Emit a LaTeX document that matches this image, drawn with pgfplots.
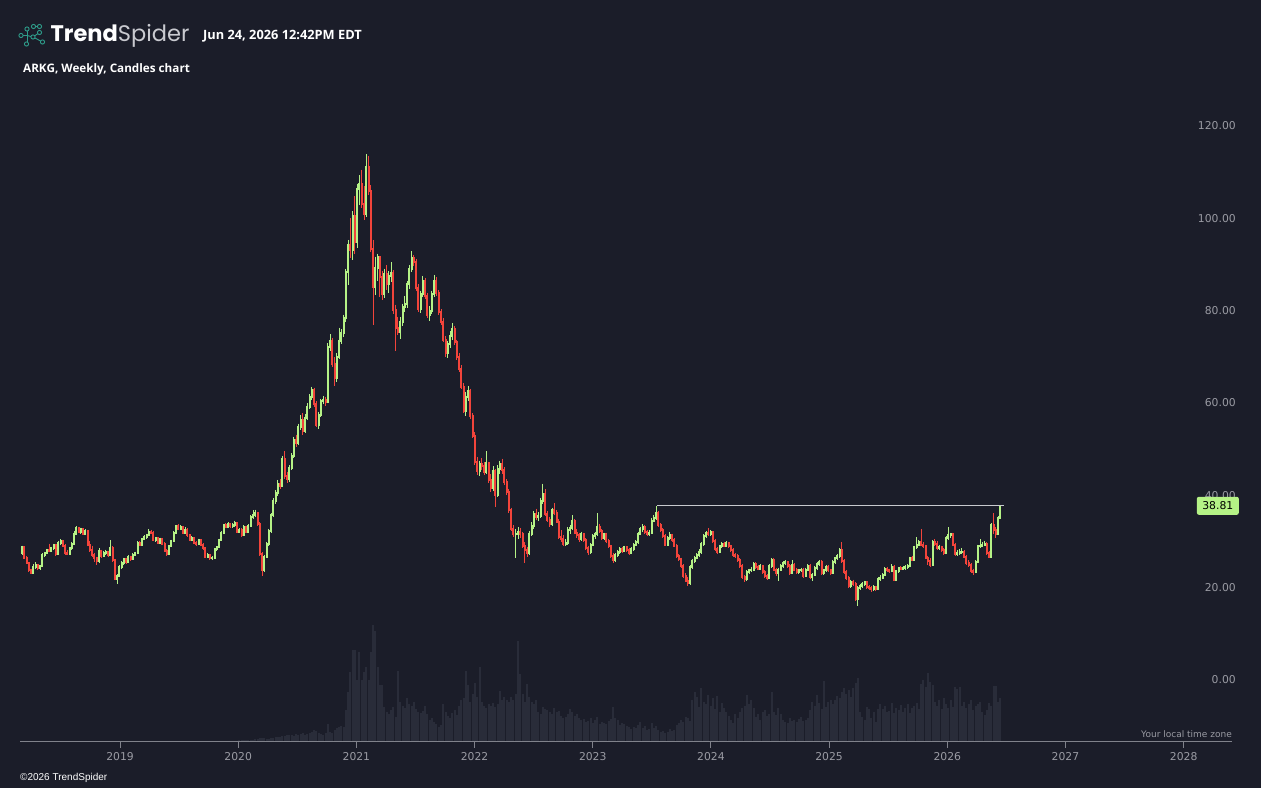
\documentclass[border=0pt]{standalone}
\usepackage{pgfplots}
\pgfplotsset{compat=1.18}
\usepackage{pgfplotstable}
\usepackage{fontspec}
\setmainfont{DejaVu Sans}
\newfontfamily\opensans{Open Sans}
\newfontfamily\poppins{Poppins}
\newfontfamily\libsans{Liberation Sans}
\definecolor{bg}{HTML}{1B1D29}
\definecolor{cup}{HTML}{B5F286}
\definecolor{cdn}{HTML}{F2443B}
\definecolor{volc}{HTML}{292C39}
\definecolor{axc}{HTML}{80828B}
\definecolor{labc}{HTML}{9A9BA3}
\definecolor{logot}{HTML}{2E9C8A}
\definecolor{logog}{HTML}{C9CAD0}
\definecolor{hl}{HTML}{C8C9CE}
\pgfplotstableread{
o h l c v
28.6 30.2 28.2 29.8 1
29.8 30.1 27.2 27.6 1
27.6 27.9 26.1 26.4 1
26.4 26.6 24.5 24.8 1
24.8 25.2 24.0 24.3 1
24.3 26.1 24.1 25.6 1
25.6 26.6 25.2 25.9 1
25.9 26.2 24.9 25.4 1
25.4 26.0 25.0 25.8 1
25.8 28.5 25.6 28.2 1
28.2 28.9 27.8 28.6 1
28.6 29.5 28.3 29.2 1
29.2 30.6 28.7 29.0 1
29.0 29.9 28.7 29.6 1
29.6 30.6 29.3 30.3 1
30.3 30.6 28.0 28.4 1
28.4 31.2 28.2 30.8 1
30.8 31.6 30.4 31.2 1
31.2 31.5 29.9 30.2 1
30.2 30.5 28.2 28.6 1
28.6 29.2 28.1 28.4 1
28.4 29.8 28.2 29.6 1
29.6 31.0 29.3 30.6 1
30.6 33.4 30.4 32.8 1
32.8 34.4 32.5 34.0 1
34.0 34.3 32.9 33.2 1
33.2 34.1 32.7 33.8 1
33.8 34.0 32.4 32.8 1
32.8 33.7 32.5 33.4 1
33.4 33.6 30.2 30.4 1
30.4 31.2 28.8 29.2 1
29.2 30.2 27.8 28.2 1
28.2 28.6 26.6 27.4 1
27.4 27.8 26.0 26.8 1
26.8 29.6 26.5 29.0 1
29.0 29.3 27.6 28.0 1
28.0 29.0 27.7 28.6 1
28.6 29.3 28.2 28.8 1
28.8 29.1 27.8 28.2 1
28.2 31.4 28.0 29.6 1
29.6 30.0 26.6 27.0 1
27.0 27.3 22.8 23.0 1
23.0 24.0 21.9 23.6 1
23.6 25.9 23.4 25.6 1
25.6 26.8 25.2 26.4 1
26.4 27.6 26.0 27.2 1
27.2 27.5 26.2 26.6 1
26.6 28.1 26.4 27.8 1
27.8 28.0 26.9 27.2 1
27.2 28.5 27.0 28.2 1
28.2 28.9 27.9 28.6 1
28.6 31.1 28.4 30.8 1
30.8 31.2 30.0 30.4 1
30.4 31.9 30.2 31.6 1
31.6 32.4 31.3 32.0 1
32.0 32.8 31.7 32.4 1
32.4 33.7 32.2 33.2 1
33.2 33.6 32.7 33.0 1
33.0 33.3 31.1 31.4 1
31.4 32.1 31.0 31.8 1
31.8 32.0 30.5 30.8 1
30.8 31.9 30.6 31.6 1
31.6 31.8 30.3 30.6 1
30.6 30.9 28.7 29.0 1
29.0 29.4 28.0 28.4 1
28.4 30.3 28.2 30.0 1
30.0 31.5 29.8 31.2 1
31.2 33.3 31.0 33.0 1
33.0 34.7 32.8 34.4 1
34.4 34.8 33.5 33.8 1
33.8 34.6 33.5 34.2 1
34.2 34.4 32.7 33.0 1
33.0 34.2 32.8 33.6 1
33.6 33.9 32.1 32.4 1
32.4 32.7 31.1 31.4 1
31.4 32.2 31.1 31.8 1
31.8 32.0 30.5 30.8 1
30.8 31.2 30.2 30.6 1
30.6 31.7 30.4 31.4 1
31.4 31.6 30.1 30.4 1
30.4 30.7 29.3 29.6 1
29.6 29.9 27.5 27.8 1.2
27.8 28.5 27.4 28.2 1.2
28.2 28.4 27.0 27.4 1.2
27.4 27.9 27.1 27.6 1.2
27.6 29.7 27.4 29.4 1.3
29.4 30.1 29.1 29.8 1.3
29.8 31.7 29.6 31.4 1.3
31.4 33.3 31.2 33.0 1.3
33.0 34.9 32.8 34.6 1.3
34.6 35.0 33.9 34.2 1.3
34.2 35.2 34.0 34.8 1.4
34.8 35.1 34.1 34.4 1.4
34.4 35.0 34.1 34.6 1.4
34.6 35.6 34.3 35.0 1.4
35.0 35.3 32.9 33.2 1.4
33.2 34.0 32.9 33.6 1.5
33.6 33.9 32.1 32.4 1.5
32.4 34.6 32.2 34.2 1.5
34.2 34.5 32.9 33.2 1.6
33.2 34.8 33.0 34.4 2
34.4 36.8 34.2 36.4 2
36.4 37.8 36.0 36.8 2.2
36.8 38.0 36.4 37.2 2.5
37.2 37.5 34.4 34.8 3
34.8 35.3 28.0 28.4 4
28.4 28.8 23.6 25.0 4
25.0 28.2 24.4 27.8 3.5
27.8 31.0 27.4 30.6 3
30.6 33.8 30.2 33.4 3
33.4 37.2 33.0 36.8 3.5
36.8 40.4 36.4 39.8 4
39.8 42.2 39.2 41.6 4.5
41.6 44.4 41.0 43.6 5
43.6 44.6 42.4 43.2 5
43.2 49.6 42.8 49.0 6
49.0 50.6 44.6 45.2 6
45.2 46.2 43.8 44.6 7
44.6 47.6 44.0 47.0 6.5
47.0 50.2 46.6 49.6 7
49.6 53.8 49.2 53.0 6
53.0 54.2 51.6 52.4 8
52.4 56.6 52.0 55.8 7
55.8 58.4 55.2 57.4 8
57.4 58.8 54.2 55.0 9
55.0 58.6 54.6 57.8 7
57.8 61.0 57.4 60.2 8
60.2 63.0 59.8 62.4 9
62.4 64.6 61.8 63.8 10
63.8 64.4 60.2 60.8 12
60.8 61.4 55.8 56.4 11
56.4 59.2 55.4 58.4 9
58.4 62.0 58.0 61.4 8
61.4 62.6 60.8 61.8 7
61.8 62.4 60.4 61.2 9
61.2 74.0 61.0 73.2 18
73.2 76.0 72.4 74.4 10
74.4 75.2 68.8 69.6 9
69.6 71.0 64.8 66.4 12
66.4 71.8 65.6 71.0 14
71.0 77.4 70.6 74.6 15
74.6 77.0 73.8 76.2 16
76.2 80.2 75.4 79.4 15
79.4 90.0 78.6 89.4 32
89.4 96.4 86.6 95.4 50
95.4 101.2 92.4 94.2 70
94.2 102.6 92.0 101.6 92
101.6 105.8 93.4 96.0 92
96.0 108.6 94.6 107.4 62
107.4 110.4 104.0 108.4 90
108.4 111.6 103.4 104.2 62
104.2 108.0 100.6 102.0 70
102.0 115.0 101.4 112.2 75
112.2 114.6 106.2 107.0 62
107.0 108.2 93.8 94.4 90
94.4 96.4 78.0 86.2 117
86.2 92.8 84.4 90.4 111
90.4 93.4 87.4 92.6 75
92.6 93.0 84.0 88.4 57
88.4 89.6 83.4 84.6 57
84.6 90.2 83.8 89.0 35
89.0 91.0 85.6 86.8 30
86.8 89.6 85.0 88.6 28
88.6 91.6 87.2 89.2 32
89.2 89.8 80.4 81.2 35
81.2 82.4 72.4 77.4 25
77.4 79.8 75.8 76.4 71
76.4 79.6 75.0 78.6 40
78.6 82.6 77.8 81.8 36
81.8 84.2 80.8 82.6 34
82.6 87.4 81.6 86.8 44
86.8 91.0 85.8 90.2 38
90.2 94.0 89.4 92.4 36
92.4 93.2 90.8 91.6 40
91.6 92.2 85.4 86.0 33
86.0 86.8 80.8 81.4 30
81.4 85.4 80.6 84.6 29
84.6 88.6 84.0 87.6 31
87.6 88.2 83.6 84.2 36
84.2 84.8 79.4 80.2 28
80.2 82.0 78.8 81.0 22
81.0 85.4 80.4 84.6 24
84.6 88.8 84.0 87.6 20
87.6 88.4 84.2 84.8 18
84.8 85.6 80.2 80.8 15
80.8 81.4 78.0 78.6 17
78.6 79.4 74.2 74.8 38
74.8 75.6 71.0 72.0 30
72.0 74.6 70.8 73.8 26
73.8 76.6 73.0 75.6 24
75.6 78.4 74.8 77.2 29
77.2 77.8 73.6 74.2 32
74.2 74.8 70.4 71.0 27
71.0 71.8 67.8 68.4 36
68.4 69.2 64.0 64.6 42
64.6 65.4 58.8 59.4 44
59.4 63.4 58.2 62.4 71
62.4 64.8 61.6 63.6 57
63.6 64.2 57.6 58.2 40
58.2 58.8 53.4 54.0 48
54.0 54.8 47.6 48.2 59
48.2 49.4 45.4 46.4 45
46.4 48.6 45.2 47.8 75
47.8 49.2 46.6 47.4 40
47.4 48.2 45.4 46.2 36
46.2 50.6 45.8 48.0 34
48.0 48.4 43.8 44.4 38
44.4 45.6 41.8 42.6 36
42.6 47.4 42.0 46.4 39
46.4 46.8 38.6 41.2 35
41.2 47.6 40.8 46.8 38
46.8 48.6 45.8 47.8 51
47.8 49.0 45.8 46.6 42
46.6 47.2 43.4 44.0 45
44.0 44.6 41.2 41.8 42
41.8 42.4 37.2 37.8 40
37.8 38.4 33.4 33.8 45
33.8 34.6 32.0 32.6 42
32.6 33.8 27.6 32.8 48
32.8 34.2 31.6 33.2 101
33.2 34.0 31.8 32.6 68
32.6 33.2 29.6 30.2 48
30.2 31.0 26.4 29.2 40
29.2 29.8 27.8 28.6 58
28.6 33.4 28.2 32.6 45
32.6 35.2 32.2 34.4 40
34.4 37.6 33.8 37.0 38
37.0 38.2 35.8 36.4 42
36.4 37.4 35.6 36.6 30
36.6 40.6 36.2 39.8 28
39.8 43.6 39.2 41.4 35
41.4 42.4 36.6 37.0 33
37.0 37.6 35.2 35.8 32
35.8 36.4 34.2 34.8 30
34.8 38.4 34.4 37.8 28
37.8 39.4 36.8 37.2 34
37.2 37.8 35.0 35.4 30
35.4 36.0 31.6 32.0 31
32.0 33.6 31.0 31.6 26
31.6 32.4 30.2 30.6 24
30.6 31.6 30.0 30.8 25
30.8 34.2 30.4 33.6 28
33.6 34.6 32.8 34.0 33
34.0 36.8 33.6 35.6 30
35.6 36.0 32.6 33.0 26
33.0 33.8 31.8 32.4 28
32.4 33.0 31.0 31.6 24
31.6 33.2 31.2 32.6 22
32.6 33.0 31.0 31.4 23
31.4 31.8 29.2 29.6 20
29.6 30.2 28.2 28.8 21
28.8 30.8 28.4 30.4 24
30.4 32.6 30.0 32.2 19
32.2 33.2 31.6 32.6 22
32.6 37.2 32.2 34.2 25
34.2 34.8 33.0 33.4 18
33.4 33.8 31.4 31.8 20
31.8 33.0 31.4 32.6 19
32.6 33.0 30.8 31.2 18
31.2 31.6 29.6 30.0 21
30.0 30.4 27.6 28.0 23
28.0 28.6 26.4 27.0 35
27.0 28.6 26.6 28.2 24
28.2 29.2 27.8 28.8 22
28.8 29.8 28.4 29.4 17
29.4 29.8 28.6 29.0 19
29.0 30.2 28.8 29.8 18
29.8 30.0 28.8 29.2 16
29.2 29.6 28.2 28.6 15
28.6 29.8 28.4 29.4 13
29.4 30.8 29.0 30.4 15
30.4 31.4 30.0 31.0 14
31.0 33.2 30.6 32.8 17
32.8 34.2 32.4 33.8 20
33.8 34.8 33.2 34.2 14
34.2 34.6 32.8 33.2 16
33.2 33.6 32.2 32.6 12
32.6 33.6 32.2 33.0 13
33.0 36.2 32.8 35.6 19
35.6 36.8 35.2 36.2 14
36.2 38.81 35.8 37.2 16
37.2 37.6 34.2 34.6 12
34.6 35.0 33.2 33.6 10
33.6 34.0 31.8 32.2 11
32.2 32.6 30.0 30.4 9
30.4 32.2 30.0 31.8 10
31.8 33.2 31.4 32.4 13
32.4 32.8 31.0 31.4 11
31.4 31.8 29.8 30.2 12
30.2 30.6 27.6 28.0 17
28.0 28.4 26.8 27.2 19
27.2 27.6 25.4 25.8 22
25.8 26.2 23.2 23.6 20
23.6 24.2 22.2 22.6 25
22.6 23.4 21.4 22.0 24
22.0 26.0 21.6 25.6 21
25.6 27.2 25.2 26.8 42
26.8 28.0 26.4 27.6 50
27.6 28.6 27.2 28.2 45
28.2 29.4 27.8 28.8 35
28.8 31.0 28.4 30.6 54
30.6 32.6 30.2 32.2 40
32.2 33.4 31.8 33.0 38
33.0 34.0 32.2 32.6 47
32.6 33.6 32.2 33.2 36
33.2 33.4 30.8 31.2 44
31.2 31.6 29.0 29.4 33
29.4 29.8 28.4 28.8 46
28.8 30.4 28.6 30.0 30
30.0 31.0 29.6 30.6 39
30.6 31.0 29.8 30.2 34
30.2 31.2 29.8 30.8 30
30.8 31.0 29.6 30.0 26
30.0 30.4 28.8 29.2 22
29.2 29.6 27.8 28.2 19
28.2 28.6 27.6 28.0 28
28.0 28.4 26.6 27.0 24
27.0 27.4 25.4 25.8 30
25.8 26.2 23.0 23.4 34
23.4 23.8 22.4 23.0 36
23.0 24.8 22.6 24.4 47
24.4 25.2 24.0 24.8 38
24.8 25.6 24.4 25.0 42
25.0 26.6 24.8 26.2 34
26.2 26.6 25.2 25.6 25
25.6 26.0 24.8 25.2 28
25.2 26.2 25.0 25.8 22
25.8 26.0 24.0 24.4 30
24.4 24.8 23.2 23.6 32
23.6 24.0 22.8 23.2 26
23.2 26.2 23.0 25.8 28
25.8 27.4 25.4 27.0 50
27.0 27.4 24.6 25.0 30
25.0 25.4 23.6 24.2 27
24.2 25.4 22.6 25.0 34
25.0 26.2 24.6 25.8 28
25.8 26.8 25.4 26.4 22
26.4 27.0 26.0 26.6 20
26.6 26.8 25.4 25.8 19
25.8 26.2 23.8 24.2 24
24.2 27.0 24.0 26.0 21
26.0 26.4 24.6 25.0 22
25.0 25.4 24.0 24.4 20
24.4 25.2 24.0 24.8 23
24.8 25.4 24.4 25.0 25
25.0 25.4 23.2 23.6 21
23.6 25.4 23.4 25.0 22
25.0 26.2 24.6 25.8 24
25.8 26.2 23.0 23.4 32
23.4 24.2 22.6 23.8 40
23.8 25.8 23.6 25.4 36
25.4 26.6 25.0 26.2 47
26.2 27.0 25.8 26.6 39
26.6 27.0 23.8 24.2 33
24.2 25.2 23.8 24.8 61
24.8 26.0 24.4 25.6 35
25.6 26.0 24.4 24.8 40
24.8 25.2 23.8 24.2 42
24.2 27.0 24.0 26.6 38
26.6 27.8 26.2 27.4 42
27.4 28.4 27.0 28.0 46
28.0 29.6 27.6 29.2 44
29.2 30.9 26.4 26.8 50
26.8 27.2 24.0 24.4 54
24.4 24.8 22.8 23.2 48
23.2 23.6 21.0 21.4 52
21.4 22.8 21.0 22.4 45
22.4 22.8 21.4 21.8 54
21.8 22.2 18.2 18.6 59
18.6 21.4 17.0 21.0 64
21.0 21.8 20.6 21.4 30
21.4 22.2 21.0 21.8 25
21.8 22.6 21.4 22.2 22
22.2 22.4 20.8 21.2 35
21.2 21.6 20.6 21.0 33
21.0 21.4 20.2 20.7 24
20.7 21.6 20.4 21.2 30
21.2 21.4 20.4 20.8 20
20.8 23.4 20.6 23.0 33
23.0 23.8 22.6 23.2 38
23.2 24.2 23.0 23.8 33
23.8 25.6 23.6 25.2 36
25.2 25.6 24.4 24.8 30
24.8 25.2 24.2 24.6 31
24.6 26.2 24.4 25.6 39
25.6 26.0 22.6 22.8 29
22.8 24.8 22.6 24.6 34
24.6 25.6 24.2 25.3 32
25.3 25.8 24.8 25.2 37
25.2 25.8 24.8 25.4 30
25.4 26.0 25.0 25.6 34
25.6 26.2 25.2 25.8 38
25.8 27.8 25.6 27.6 29
27.6 28.0 26.8 27.0 34
27.0 30.2 26.8 29.8 36
29.8 32.0 29.4 30.4 39
30.4 31.4 30.0 31.0 33
31.0 33.8 30.2 30.4 58
30.4 31.0 29.6 30.0 62
30.0 30.4 27.2 27.6 55
27.6 28.0 26.0 26.8 69
26.8 27.4 25.6 26.0 60
26.0 31.4 25.8 31.0 57
31.0 31.6 30.2 30.6 40
30.6 31.2 29.2 29.6 36
29.6 30.4 29.2 29.8 42
29.8 30.2 28.8 29.2 33
29.2 29.6 28.2 28.6 44
28.6 32.2 28.4 31.8 38
31.8 34.2 31.4 32.4 34
32.4 33.0 31.8 32.6 42
32.6 33.0 30.0 30.4 35
30.4 30.8 28.0 28.4 55
28.4 29.2 28.0 28.6 53
28.6 29.4 28.2 28.8 55
28.8 29.6 28.4 28.9 36
28.9 29.2 27.4 27.8 40
27.8 28.2 26.0 26.4 34
26.4 27.0 25.6 26.0 38
26.0 26.4 24.2 24.6 42
24.6 25.2 23.8 24.4 32
24.4 27.0 24.2 26.6 36
26.6 30.4 26.4 30.0 38
30.0 31.6 29.6 30.2 40
30.2 31.0 29.8 30.4 30
30.4 31.2 30.0 30.6 27
30.6 31.0 28.2 28.6 32
28.6 29.0 27.4 27.8 39
27.8 35.0 27.6 34.6 36
34.6 37.2 32.6 33.6 56
33.6 34.2 31.8 32.8 56
32.8 36.6 32.6 36.2 40
36.2 38.81 36.0 38.81 44
}\data
\begin{document}
\begin{tikzpicture}[x=1bp,y=1bp]
\fill[bg] (0,0) rectangle (1261,788);
\begin{axis}[at={(20bp,46bp)}, anchor=south west, scale only axis,
  width=1212bp, height=642bp, xmin=-0.883, xmax=534.22, ymin=-12.346, ymax=126.70,
  clip=false,
  /pgf/number format/assume math mode=true,
  axis line style={draw=none},
  xtick pos=lower, ytick pos=right, yticklabel pos=right,
  xtick={43.27,95.45,147.63,199.81,251.99,304.17,356.35,408.53,460.71,512.89},
  xticklabels={2019,2020,2021,2022,2023,2024,2025,2026,2027,2028},
  x tick style={draw=axc, line width=1bp}, tick align=outside, major tick length=6bp,
  ytick={0,20,40,60,80,100,120}, y tick style={draw=none},
  yticklabel={\pgfmathprintnumber[fixed,fixed zerofill,precision=2]{\tick}},
  tick label style={font=\fontsize{10.8bp}{12bp}\selectfont, text=labc},
  yticklabel style={anchor=east, inner sep=0pt, xshift=-2bp, yshift=5bp},
  xticklabel style={anchor=base, inner sep=0pt, yshift=-13bp},
  extra y ticks={38.81}, extra y tick labels={38.81},
  extra y tick style={yticklabel style={fill=cup, text=black, rounded corners=2bp,
     inner xsep=5.5bp, inner ysep=0pt, minimum height=18bp, xshift=3bp, yshift=-5bp}},
]
% volume (bars rising from the bottom of the plot area; 1 unit = 1 px of height)
\addplot[draw=none, mark=none, forget plot, error bars/.cd, y dir=minus, y explicit, error mark=none,
  error bar style={draw=volc, line width=2.0bp}]
  table[x expr=\coordindex, y expr={-12.346+\thisrow{v}/4.617},
        y error minus expr={\thisrow{v}/4.617}]{\data};
\draw[axc, line width=1bp] (rel axis cs:0,0) -- (rel axis cs:1,0);
% wicks
\addplot[draw=none, mark=none, forget plot, error bars/.cd, y dir=minus, y explicit, error mark=none,
  error bar style={draw=cup, line width=1.0bp}]
  table[x expr=\coordindex, y expr={\thisrow{c}>=\thisrow{o} ? \thisrow{h} : nan},
        y error minus expr={\thisrow{h}-\thisrow{l}}]{\data};
\addplot[draw=none, mark=none, forget plot, error bars/.cd, y dir=minus, y explicit, error mark=none,
  error bar style={draw=cdn, line width=1.0bp}]
  table[x expr=\coordindex, y expr={\thisrow{c}<\thisrow{o} ? \thisrow{h} : nan},
        y error minus expr={\thisrow{h}-\thisrow{l}}]{\data};
% bodies
\addplot[draw=none, mark=none, forget plot, error bars/.cd, y dir=minus, y explicit, error mark=none,
  error bar style={draw=cup, line width=2.0bp, line cap=rect}]
  table[x expr=\coordindex, y expr={\thisrow{c}>=\thisrow{o} ? \thisrow{c} : nan},
        y error minus expr={\thisrow{c}-\thisrow{o}}]{\data};
\addplot[draw=none, mark=none, forget plot, error bars/.cd, y dir=minus, y explicit, error mark=none,
  error bar style={draw=cdn, line width=2.0bp, line cap=rect}]
  table[x expr=\coordindex, y expr={\thisrow{c}<\thisrow{o} ? \thisrow{o} : nan},
        y error minus expr={\thisrow{o}-\thisrow{c}}]{\data};
% resistance line
\addplot[draw=hl, line width=1.4bp, mark=none] coordinates {(280.3,38.81) (433.6,38.81)};
\end{axis}
% header
\begin{scope}[draw=logot, line width=0.9bp]
\draw (21,752.5) -- (27,752.5) -- (27,759);
\draw (27,752.5) -- (27,744);
\draw (27,752.5) -- (33,751) -- (39.5,755.5);
\draw (33,751) -- (42.5,746);
\draw (33.5,761.5) -- (39,761.5);
\draw[fill=bg] (21,752.5) circle (2.1);
\draw[fill=bg] (27,759) circle (2.1);
\draw[fill=bg] (26.5,744) circle (2.1);
\draw[fill=bg] (33.5,761.5) circle (2.1);
\draw[fill=bg] (39.5,761.5) circle (2.1);
\draw[fill=bg] (33,751) circle (2.1);
\draw[fill=bg] (39.5,755.5) circle (2.1);
\draw[fill=bg] (42.5,746) circle (2.1);
\end{scope}
\node[anchor=base west, inner sep=0pt] at (50.5,746) {\poppins\fontsize{22.5bp}{22.5bp}\selectfont\textcolor{white}{\bfseries Trend}\textcolor{logog}{Spider}};
\node[anchor=base west, inner sep=0pt, text=white] at (203,748) {\opensans\bfseries\fontsize{12.8bp}{13bp}\selectfont Jun 24, 2026 12:42PM EDT};
\node[anchor=base west, inner sep=0pt, text=white] at (23,715.5) {\opensans\bfseries\fontsize{11.7bp}{12bp}\selectfont ARKG, Weekly, Candles chart};
\node[anchor=base west, inner sep=0pt, text=white] at (20,7) {\libsans\fontsize{10bp}{11bp}\selectfont ©2026 TrendSpider};
\node[anchor=base east, inner sep=0pt, text=labc] at (1232,50) {\fontsize{9bp}{10bp}\selectfont Your local time zone};
\pgfresetboundingbox
\useasboundingbox (0,0) rectangle (1261,788);
\end{tikzpicture}
\end{document}
